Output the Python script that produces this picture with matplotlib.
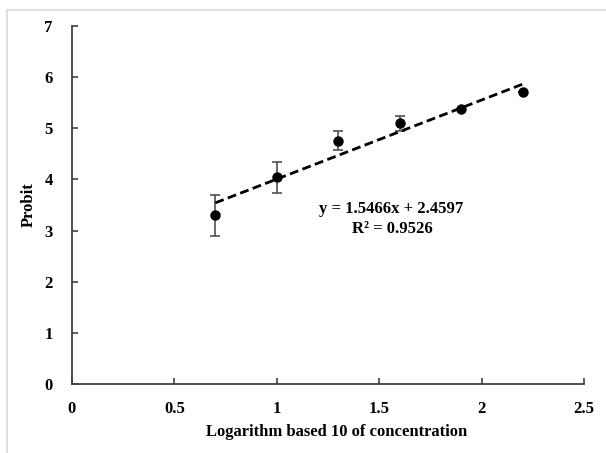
import matplotlib
matplotlib.use("Agg")
import matplotlib.pyplot as plt
from matplotlib.lines import Line2D
import numpy as np

plt.rcParams['font.family'] = ['Liberation Serif', 'DejaVu Serif']
plt.rcParams['font.weight'] = 'bold'

log_conc = [0.7, 1.0, 1.3, 1.6, 1.9, 2.2]
probit = [3.30, 4.04, 4.76, 5.10, 5.37, 5.71]
probit_err = [0.40, 0.30, 0.18, 0.15, 0.0, 0.0]
slope, intercept = 1.5466, 2.4597
eq_text = "y = 1.5466x + 2.4597"
r2_text = "R² = 0.9526"
x_ticks = [0, 0.5, 1, 1.5, 2, 2.5]
x_tick_labels = ["0", "0.5", "1", "1.5", "2", "2.5"]
y_ticks = [0, 1, 2, 3, 4, 5, 6, 7]

W, H = 606, 453
fig = plt.figure(figsize=(W/100, H/100), dpi=100)
ax = fig.add_axes([72/W, 1-384/H, (584-72)/W, (384-26)/H])

axis_col = '#404040'
ax.errorbar(log_conc, probit, yerr=probit_err, fmt='o', color='black',
            ecolor='#505050', elinewidth=1.2, capsize=3.5, capthick=1.2,
            markersize=6.5, zorder=3)
xs = np.array([min(log_conc), max(log_conc)])
ax.plot(xs, slope*xs + intercept, linestyle=(0, (3.2, 1.6)), color='black', lw=2.0, zorder=4)

ax.text(1.56, 3.42, eq_text, ha='center', va='center', fontsize=12, fontweight='bold')
ax.text(1.565, 3.03, r2_text, ha='center', va='center', fontsize=12, fontweight='bold')

ax.set_xlim(0, 2.5)
ax.set_ylim(0, 7)
ax.set_xticks(x_ticks)
ax.set_xticklabels(x_tick_labels)
ax.set_yticks(y_ticks)
for s in ['top', 'right']:
    ax.spines[s].set_visible(False)
for s in ['left', 'bottom']:
    ax.spines[s].set_color(axis_col)
    ax.spines[s].set_linewidth(1.3)
ax.tick_params(direction='in', length=4, width=1.2, color=axis_col, labelsize=12)
ax.tick_params(axis='x', pad=12)
ax.tick_params(axis='y', pad=14)
for lab in ax.get_xticklabels() + ax.get_yticklabels():
    lab.set_fontweight('bold')
ax.set_xlabel("Logarithm based 10 of concentration", fontsize=12, fontweight='bold',
              labelpad=5, x=(336.5-72)/512)
ax.set_ylabel("Probit", fontsize=12, fontweight='bold', labelpad=5)

border = '#d9d9d9'
fig.add_artist(Line2D([7/W, 1], [1-9.5/H, 1-9.5/H], color=border, lw=1.2, transform=fig.transFigure))
fig.add_artist(Line2D([7/W, 7/W], [0, 1-9.5/H], color=border, lw=1.2, transform=fig.transFigure))

fig.savefig("out.png", dpi=100)
